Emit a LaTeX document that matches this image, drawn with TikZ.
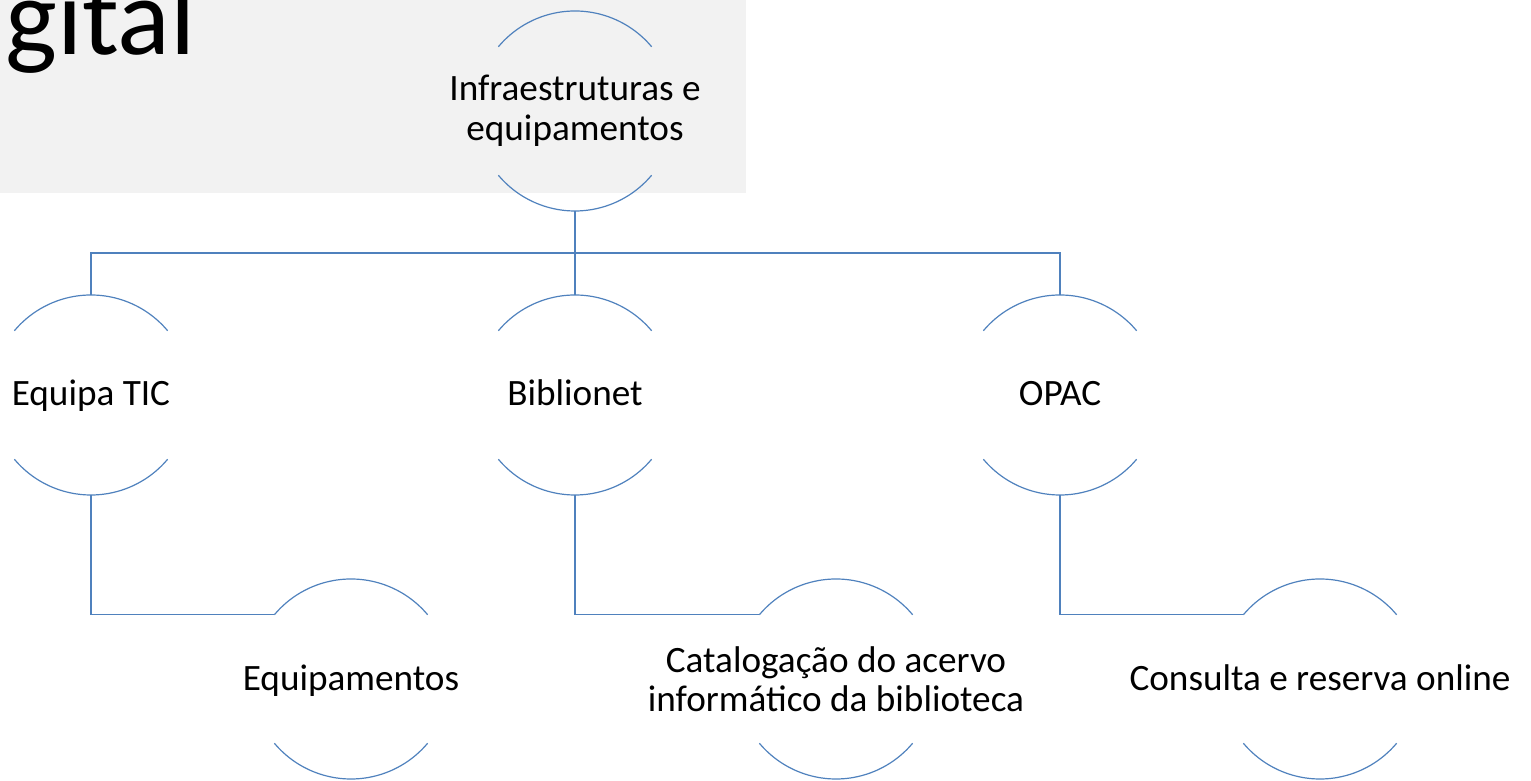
\documentclass[tikz,border=0pt]{standalone}
\usepackage{fontspec}
\setmainfont{Carlito}
\usetikzlibrary{positioning}
\definecolor{lineblue}{RGB}{79,129,189}
\definecolor{slidegrey}{RGB}{242,242,242}
\begin{document}
\begin{tikzpicture}[x=1pt, y=1pt,
    txt/.style={align=center, inner sep=0pt, font=\fontsize{37.2}{39.5}\selectfont},
    rim/.style={draw=lineblue, line width=1.2pt},
    link/.style={draw=lineblue, line width=1.2pt}]
\useasboundingbox (0,0) rectangle (1531,781);
\clip (0,0) rectangle (1531,781);
\fill[slidegrey] (0,588) rectangle (746,781);
\node[anchor=base west, inner sep=0pt, font=\fontsize{110}{120}\selectfont] (title) at (5,726) {gital};

\node[txt] (infra) at (575,670) {Infraestruturas e\\equipamentos};
\node[txt, anchor=base] (equipa) at (91,375) {Equipa TIC};
\node[txt, anchor=base] (biblionet) at (575,375) {Biblionet};
\node[txt, anchor=base] (opac) at (1060,375) {OPAC};
\node[txt, anchor=base] (equip) at (351,90.5) {Equipamentos};
\node[txt] (catalog) at (836,102) {Catalogação do acervo\\informático da biblioteca};
\node[txt, anchor=base] (consulta) at (1320,90.5) {Consulta e reserva online};

% bubble centres (the text baselines sit a little lower)
\coordinate (infra-c) at (575,670);
\coordinate (equipa-c) at (91,386);
\coordinate (biblionet-c) at (575,386);
\coordinate (opac-c) at (1060,386);
\coordinate (equip-c) at (351,102);
\coordinate (catalog-c) at (836,102);
\coordinate (consulta-c) at (1320,102);

% upper and lower rims of each bubble
\foreach \n in {infra,equipa,biblionet,opac,equip,catalog,consulta}
  \draw[rim] (\n-c) ++(40:100pt) arc[start angle=40, end angle=140, radius=100pt]
             (\n-c) ++(220:100pt) arc[start angle=220, end angle=320, radius=100pt];

\coordinate (fork) at (575,528);
\draw[link] ([yshift=-100pt]infra-c) -- (fork);
\draw[link] ([yshift=100pt]equipa-c) |- (fork) -| ([yshift=100pt]opac-c);
\draw[link] (fork) -- ([yshift=100pt]biblionet-c);

\draw[link] ([yshift=-100pt]equipa-c) |- ([shift={(140:100pt)}]equip-c);
\draw[link] ([yshift=-100pt]biblionet-c) |- ([shift={(140:100pt)}]catalog-c);
\draw[link] ([yshift=-100pt]opac-c) |- ([shift={(140:100pt)}]consulta-c);
\end{tikzpicture}
\end{document}
